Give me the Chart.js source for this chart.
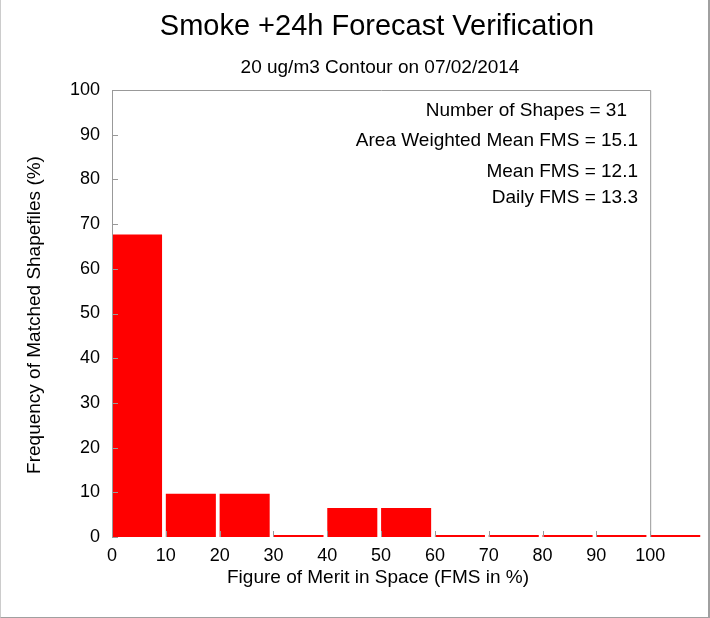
<!DOCTYPE html>
<html>
<head>
<meta charset="utf-8">
<script src="https://cdn.jsdelivr.net/npm/chart.js@4"></script>
<style>
  html, body { margin: 0; padding: 0; background: #fff; }
  #wrap { width: 710px; height: 618px; position: relative; }
  #wrap:after { content: ''; position: absolute; left: 0; top: 0; right: 0; bottom: 0;
    border-right: 2px solid #a0a0a0; border-bottom: 1px solid #a0a0a0; border-left: 1px solid #ccc; pointer-events: none; }
</style>
</head>
<body>
<div id="wrap"><canvas id="c" width="710" height="618"></canvas></div>
<script>
// histogram bins (left edges) and frequency of matched shapefiles (%)
var binStarts = [0, 10, 20, 30, 40, 50, 60, 70, 80, 90, 100];
var freqs = [67.7, 9.7, 9.7, 0, 6.5, 6.5, 0, 0, 0, 0, 0];
var xTicks = [0, 10, 20, 30, 40, 50, 60, 70, 80, 90, 100];
var yTicks = [0, 10, 20, 30, 40, 50, 60, 70, 80, 90, 100];
var statLines = ['Number of Shapes = 31', 'Area Weighted Mean FMS = 15.1', 'Mean FMS = 12.1', 'Daily FMS = 13.3'];

var FONT = "'Liberation Sans', Arial, sans-serif";
var binWidth = 9.3;

var points = binStarts.map(function(b, i) { return { x: b + binWidth / 2, y: freqs[i] }; });

var framePlugin = {
  id: 'frame',
  afterDraw: function(chart) {
    var ctx = chart.ctx, xs = chart.scales.x, ys = chart.scales.y;
    var x0 = xs.getPixelForValue(0), x100 = xs.getPixelForValue(100);
    var y0 = ys.getPixelForValue(0), y100 = ys.getPixelForValue(100);
    ctx.save();
    ctx.strokeStyle = '#999';
    ctx.lineWidth = 1;
    ctx.beginPath();
    ctx.moveTo(x0 + 0.5, y0); ctx.lineTo(x0 + 0.5, y100 + 0.5);
    ctx.lineTo(x100 + 0.5, y100 + 0.5); ctx.lineTo(x100 + 0.5, y0);
    xTicks.forEach(function(t) {
      var px = Math.round(xs.getPixelForValue(t)) + 0.5;
      ctx.moveTo(px, y0); ctx.lineTo(px, y0 - 6);
    });
    yTicks.forEach(function(t) {
      var py = Math.round(ys.getPixelForValue(t)) + 0.5;
      ctx.moveTo(x0, py); ctx.lineTo(x0 + 6, py);
    });
    ctx.stroke();

    ctx.fillStyle = '#000';
    ctx.textAlign = 'center';
    ctx.textBaseline = 'middle';
    ctx.font = '29px ' + FONT;
    ctx.fillText('Smoke +24h Forecast Verification', 377, 27);
    ctx.font = '19px ' + FONT;
    ctx.fillText('20 ug/m3 Contour on 07/02/2014', 380, 68);
    ctx.fillText('Figure of Merit in Space (FMS in %)', 378, 578);
    ctx.save();
    ctx.translate(35, 315);
    ctx.rotate(-Math.PI / 2);
    ctx.fillText('Frequency of Matched Shapefiles (%)', 0, 0);
    ctx.restore();

    ctx.textAlign = 'right';
    var ly = [111, 141, 172, 198];
    statLines.forEach(function(s, i) { ctx.fillText(s, i === 0 ? 627 : 638, ly[i]); });
    ctx.restore();
  }
};

new Chart(document.getElementById('c'), {
  type: 'bar',
  data: {
    datasets: [{
      data: points,
      backgroundColor: '#ff0000',
      borderWidth: 0,
      minBarLength: 2,
      barPercentage: binWidth / 10,
      categoryPercentage: 1
    }]
  },
  options: {
    responsive: false,
    animation: false,
    layout: { padding: { top: 90, right: 6, left: 0, bottom: 0 } },
    plugins: { legend: { display: false }, tooltip: { enabled: false } },
    scales: {
      x: {
        type: 'linear', min: 0, max: 110, offset: false,
        afterBuildTicks: function(s) { s.ticks = xTicks.map(function(v) { return { value: v }; }); },
        afterFit: function(s) { s.height = 81; s.paddingLeft = 0; s.paddingRight = 0; },
        grid: { display: false, offset: false },
        border: { display: false },
        ticks: { color: '#000', font: { family: FONT, size: 18 }, padding: 0, maxRotation: 0 }
      },
      y: {
        min: 0, max: 100,
        afterBuildTicks: function(s) { s.ticks = yTicks.map(function(v) { return { value: v }; }); },
        afterFit: function(s) { s.width = 112; s.paddingTop = 0; s.paddingBottom = 0; },
        grid: { display: false },
        border: { display: false },
        ticks: { color: '#000', font: { family: FONT, size: 18 }, padding: 4 }
      }
    }
  },
  plugins: [framePlugin]
});
</script>
</body>
</html>
